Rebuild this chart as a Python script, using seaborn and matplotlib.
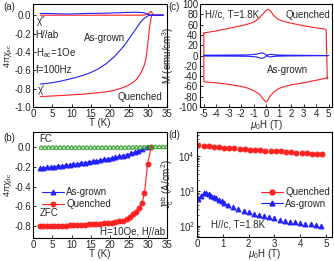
import matplotlib
matplotlib.use("Agg")
import matplotlib.pyplot as plt
import seaborn as sns

# ---- (a) ac susceptibility ----
T_ac = [1.8, 3, 5, 7, 9, 11, 13, 15, 17, 19, 21, 23, 24, 25, 26, 27, 28, 28.5, 29, 29.5,
        30, 30.5, 30.8, 31, 31.5, 32, 33, 34]
chi1_q = [-0.885, -0.884, -0.88, -0.875, -0.87, -0.865, -0.86, -0.852, -0.845, -0.835,
          -0.82, -0.795, -0.78, -0.76, -0.735, -0.70, -0.64, -0.60, -0.55, -0.47,
          -0.30, -0.11, -0.04, 0.0, 0.0, 0.0, 0.0, 0.0]
chi2_q = [0, 0, 0, 0, 0, 0, 0, 0, 0, 0, 0, 0, 0, 0, 0, 0, 0, 0, 0.002, 0.005,
          0.012, 0.03, 0.042, 0.03, 0.0, 0.0, 0.0, 0.0]
chi1_a = [-0.75, -0.745, -0.735, -0.72, -0.70, -0.68, -0.655, -0.625, -0.585, -0.53,
          -0.46, -0.37, -0.32, -0.26, -0.20, -0.14, -0.08, -0.055, -0.035, -0.02,
          -0.008, 0.0, 0.0, 0.0, 0.0, 0.0, 0.0, 0.0]
chi2_a = [0.018, 0.02, 0.017, 0.015, 0.013, 0.015, 0.018, 0.02, 0.02, 0.022,
          0.025, 0.027, 0.03, 0.03, 0.032, 0.032, 0.03, 0.028, 0.025, 0.02,
          0.012, 0.005, 0.002, 0.0, 0.0, 0.0, 0.0, 0.0]

# ---- (b) dc susceptibility ----
T_zfc_q = [1.8, 2.5, 3.5, 4.5, 5.5, 6.5, 7.5, 8.5, 9.5, 10.5, 11.5, 12.5, 13.5, 14.5, 15.5,
           16.5, 17.5, 18.5, 19.5, 20.5, 21.5, 22.5, 23.5, 24.5, 25.4, 26.2, 26.9, 27.6,
           28.4, 29.1, 29.9, 30.9]
zfc_q = [-0.800, -0.800, -0.799, -0.798, -0.797, -0.796, -0.795, -0.794, -0.793, -0.791,
         -0.789, -0.787, -0.785, -0.783, -0.781, -0.778, -0.775, -0.772, -0.768, -0.764,
         -0.759, -0.752, -0.744, -0.730, -0.705, -0.68, -0.655, -0.62, -0.57, -0.47,
         -0.17, 0.0]
T_zfc_a = [1.8, 2.5, 3.5, 4.5, 5.5, 6.5, 7.5, 8.5, 9.5, 10.5, 11.5, 12.5, 13.5, 14.5, 15.5,
           16.5, 17.5, 18.5, 19.5, 20.5, 21.5, 22.5, 23.5, 24.5, 25.5, 26.5, 27.5, 28.5,
           29.7]
zfc_a = [-0.215, -0.212, -0.207, -0.203, -0.199, -0.195, -0.190, -0.186, -0.181, -0.176,
         -0.171, -0.165, -0.159, -0.153, -0.147, -0.141, -0.134, -0.127, -0.120, -0.112,
         -0.104, -0.096, -0.087, -0.077, -0.066, -0.053, -0.038, -0.022, -0.005]
T_fc = [2, 3, 4, 5, 6, 7, 8, 9, 10, 11, 12, 13, 14, 15, 16, 17, 18, 19, 20, 21, 22, 23,
        24, 25, 26, 27, 28, 29, 30, 31, 32, 33, 34, 35]
fc_q = [-0.008, -0.008, -0.008, -0.008, -0.008, -0.008, -0.008, -0.008, -0.008, -0.008,
        -0.008, -0.008, -0.008, -0.008, -0.008, -0.008, -0.008, -0.008, -0.007, -0.007,
        -0.007, -0.007, -0.007, -0.006, -0.006, -0.005, -0.004, -0.003, -0.002, -0.001,
        0.0, 0.0, 0.0, 0.0]
fc_a = [-0.004, -0.004, -0.004, -0.004, -0.004, -0.004, -0.004, -0.004, -0.004, -0.004,
        -0.004, -0.004, -0.004, -0.004, -0.004, -0.004, -0.004, -0.004, -0.004, -0.004,
        -0.003, -0.003, -0.003, -0.003, -0.003, -0.002, -0.002, -0.001, -0.001, 0.0,
        0.0, 0.0, 0.0, 0.0]

# ---- (c) M(H) loops ----
H_loop_q = [-5.0, -4, -3, -2, -1.5, -1.0, -0.6, -0.3, 0.0, 0.15, 0.3, 0.6, 1.0, 1.5, 2, 3,
            4, 4.8, 4.9, 4.95, 4, 3, 2, 1.5, 1.0, 0.6, 0.3, 0.1, 0.0, -0.2, -0.5, -1.0,
            -1.5, -2, -3, -4, -5.0, -5.0]
M_loop_q = [44, 48, 53, 58, 61, 65, 72, 80, 88, 90, 88, 78, 70, 66, 63, 58,
            54, 51, -45, -43, -48, -53, -57, -60, -64, -71, -79, -88, -90, -86, -76, -68,
            -63, -60, -56, -53, -51, 44]
H_loop_a = [-5.0, -3, -1.5, -0.8, -0.5, -0.3, -0.1, 0.1, 0.3, 0.5, 0.8, 1.5, 3, 5.0,
            3, 1.5, 0.8, 0.5, 0.3, 0.1, -0.1, -0.3, -0.5, -0.8, -1.5, -3, -5.0]
M_loop_a = [0.8, 1.0, 1.3, 2.5, 4.5, 5.5, 3.0, -1.0, -2.5, -2.0, -1.2, -0.8, -0.5, 0.0,
            0.5, 0.8, 1.2, 2.0, 2.5, 1.0, -3.0, -5.5, -4.5, -2.5, -1.3, -1.0, -0.8]

# ---- (d) Jc(H) ----
H_jc_q = [0.05, 0.25, 0.45, 0.65, 0.85, 1.05, 1.25, 1.45, 1.65, 1.85, 2.05, 2.25, 2.45,
          2.65, 2.85, 3.05, 3.25, 3.45, 3.65, 3.85, 4.05, 4.25, 4.45, 4.65, 4.85]
jc_q = [20500, 19600, 18900, 18300, 17800, 17300, 16900, 16500, 16100, 15600, 15200,
        14900, 14600, 14300, 14000, 13700, 13400, 13000, 12700, 12400, 12100, 11800,
        11500, 11300, 11000]
H_jc_a = [0.05, 0.15, 0.25, 0.35, 0.45, 0.55, 0.65, 0.75, 0.85, 0.95, 1.05, 1.2, 1.4, 1.6,
          1.8, 2.0, 2.2, 2.4, 2.6, 2.8, 3.0, 3.2, 3.4, 3.6, 3.8, 4.0, 4.2, 4.4, 4.6, 4.8]
jc_a = [580, 700, 860, 850, 790, 730, 670, 610, 550, 500, 450, 390, 340, 300, 270, 245,
        225, 205, 190, 178, 165, 150, 140, 132, 126, 120, 115, 110, 105, 100]

sns.set_style("ticks", {"xtick.direction": "in", "ytick.direction": "in"})
plt.rcParams["font.family"] = ["Liberation Sans", "DejaVu Sans"]
plt.rcParams["font.size"] = 7
plt.rcParams["axes.unicode_minus"] = False
plt.rcParams["mathtext.fontset"] = "custom"
plt.rcParams["mathtext.rm"] = "Liberation Sans"
plt.rcParams["mathtext.it"] = "Liberation Sans:italic"
plt.rcParams["axes.linewidth"] = 0.8
plt.rcParams["axes.edgecolor"] = "black"
for k in ["xtick", "ytick"]:
    plt.rcParams[k + ".major.size"] = 2.5
    plt.rcParams[k + ".minor.size"] = 1.5
    plt.rcParams[k + ".major.width"] = 0.7
    plt.rcParams[k + ".labelsize"] = 7
    plt.rcParams[k + ".major.pad"] = 1.5

RED = "#ff2020"
BLUE = "#2020ff"

fig = plt.figure(figsize=(3.34, 2.61), dpi=100)
ax_a = fig.add_axes([0.100, 0.590, 0.400, 0.394])
ax_c = fig.add_axes([0.599, 0.590, 0.396, 0.394])
ax_b = fig.add_axes([0.100, 0.088, 0.400, 0.406])
ax_d = fig.add_axes([0.590, 0.093, 0.404, 0.402])

# (a)
sns.lineplot(x=T_ac, y=chi1_q, ax=ax_a, color=RED, lw=0.8, sort=False, estimator=None)
sns.lineplot(x=T_ac, y=chi2_q, ax=ax_a, color=RED, lw=0.8, sort=False, estimator=None)
sns.lineplot(x=T_ac, y=chi1_a, ax=ax_a, color=BLUE, lw=0.8, sort=False, estimator=None)
sns.lineplot(x=T_ac, y=chi2_a, ax=ax_a, color=BLUE, lw=0.8, sort=False, estimator=None)
ax_a.set_xlim(0, 35)
ax_a.set_ylim(-1.0, 0.12)
ax_a.set_xticks(range(0, 36, 5))
ax_a.set_yticks([-1.0, -0.8, -0.6, -0.4, -0.2, 0.0])
ax_a.set_yticklabels(["-1.0", "-0.8", "-0.6", "-0.4", "-0.2", "0.0"])
ax_a.set_xlabel("T (K)", labelpad=-1)
ax_a.set_ylabel(r"4$\pi\chi_{\rm ac}$", fontsize=6.5)
ax_a.yaxis.set_label_coords(-0.145, 0.5)
ax_a.text(1.0, -0.1, "χ''", fontsize=7)
ax_a.text(0.6, -0.22, "H//ab", fontsize=7, va="center")
ax_a.text(0.6, -0.41, r"H$_{\rm ac}$=1Oe", fontsize=7, va="center")
ax_a.text(0.6, -0.60, "f=100Hz", fontsize=7, va="center")
ax_a.text(13.2, -0.25, "As-grown", fontsize=7, va="center")
ax_a.text(1.2, -0.82, "χ'", fontsize=7, va="center")
ax_a.text(22, -0.89, "Quenched", fontsize=7, va="center")

# (c)
sns.lineplot(x=H_loop_q, y=M_loop_q, ax=ax_c, color=RED, lw=0.8, sort=False, estimator=None)
sns.lineplot(x=H_loop_a, y=M_loop_a, ax=ax_c, color=BLUE, lw=0.8, sort=False, estimator=None)
ax_c.set_xlim(-5.3, 5.3)
ax_c.set_ylim(-100, 100)
ax_c.set_xticks(range(-5, 6))
ax_c.set_yticks(range(-100, 101, 20))
ax_c.set_xlabel(r"$\mu_0$H (T)", labelpad=-1)
ax_c.set_ylabel(r"M (emu/cm$^3$)")
ax_c.yaxis.set_label_coords(-0.18, 0.5)
ax_c.text(-4.9, 79, "H//c, T=1.8K", fontsize=7, va="center")
ax_c.text(5.1, 79, "Quenched", fontsize=7, va="center", ha="right")
ax_c.text(0.1, -28, "As-grown", fontsize=7, va="center")

# (b)
sns.scatterplot(x=T_fc, y=fc_q, ax=ax_b, marker="o", s=7, facecolor="none",
                edgecolor="#33a02c", linewidth=0.5, zorder=3)
sns.scatterplot(x=T_fc, y=fc_a, ax=ax_b, marker="^", s=7, facecolor="none",
                edgecolor="#33a02c", linewidth=0.5, zorder=3)
sns.lineplot(x=T_zfc_a, y=zfc_a, ax=ax_b, color=BLUE, lw=0.8, marker="^", markersize=3.5,
             markeredgecolor=BLUE, sort=False, estimator=None, label="As-grown")
sns.lineplot(x=T_zfc_q, y=zfc_q, ax=ax_b, color=RED, lw=0.8, marker="o", markersize=3.5,
             markeredgecolor=RED, sort=False, estimator=None, label="Quenched")
ax_b.set_xlim(0, 35)
ax_b.set_ylim(-0.92, 0.15)
ax_b.set_xticks(range(0, 36, 5))
ax_b.set_yticks([-0.8, -0.6, -0.4, -0.2, 0.0])
ax_b.set_yticklabels(["-0.8", "-0.6", "-0.4", "-0.2", "0.0"])
ax_b.set_xlabel("T (K)", labelpad=-1)
ax_b.set_ylabel(r"4$\pi\chi_{\rm dc}$", fontsize=6.5)
ax_b.yaxis.set_label_coords(-0.145, 0.5)
ax_b.legend(loc="upper left", bbox_to_anchor=(0.0, 0.56), frameon=False, fontsize=7,
            handlelength=2.2, handletextpad=0.3, labelspacing=0.2)
ax_b.text(1.6, 0.08, "FC", fontsize=7, va="center")
ax_b.text(1.6, -0.67, "ZFC", fontsize=7, va="center")
ax_b.text(34.5, -0.85, "H=10Oe, H//ab", fontsize=7, va="center", ha="right")

# (d)
sns.lineplot(x=H_jc_q, y=jc_q, ax=ax_d, color=RED, lw=0, marker="o", markersize=3.5,
             markeredgecolor=RED, sort=False, estimator=None)
sns.lineplot(x=H_jc_a, y=jc_a, ax=ax_d, color=BLUE, lw=0, marker="^", markersize=3.5,
             markeredgecolor=BLUE, sort=False, estimator=None)
ax_d.set_yscale("log")
ax_d.set_xlim(0, 5.23)
ax_d.set_ylim(49, 49000)
ax_d.set_xticks(range(0, 6))
ax_d.set_xlabel(r"$\mu_0$H (T)", labelpad=-1)
ax_d.set_ylabel(r"J$_{\rm c}^{\rm ab}$ (A/cm$^2$)")
ax_d.yaxis.set_label_coords(-0.155, 0.5)
ax_d.plot([], [], color=RED, lw=0.8, marker="o", markersize=3.5, label="Quenched")
ax_d.plot([], [], color=BLUE, lw=0.8, marker="^", markersize=3.5, label="As-grown")
ax_d.legend(loc="center left", bbox_to_anchor=(0.41, 0.37), frameon=False, fontsize=7,
            handlelength=2.2, handletextpad=0.3, labelspacing=0.2)
ax_d.text(0.1, 0.12, "H//c, T=1.8K", fontsize=7, va="center", transform=ax_d.transAxes)

fig.text(0.01, 0.96, "(a)", fontsize=7)
fig.text(0.503, 0.96, "(c)", fontsize=7)
fig.text(0.01, 0.46, "(b)", fontsize=7)
fig.text(0.503, 0.47, "(d)", fontsize=7)

fig.savefig("out.png", dpi=100)
